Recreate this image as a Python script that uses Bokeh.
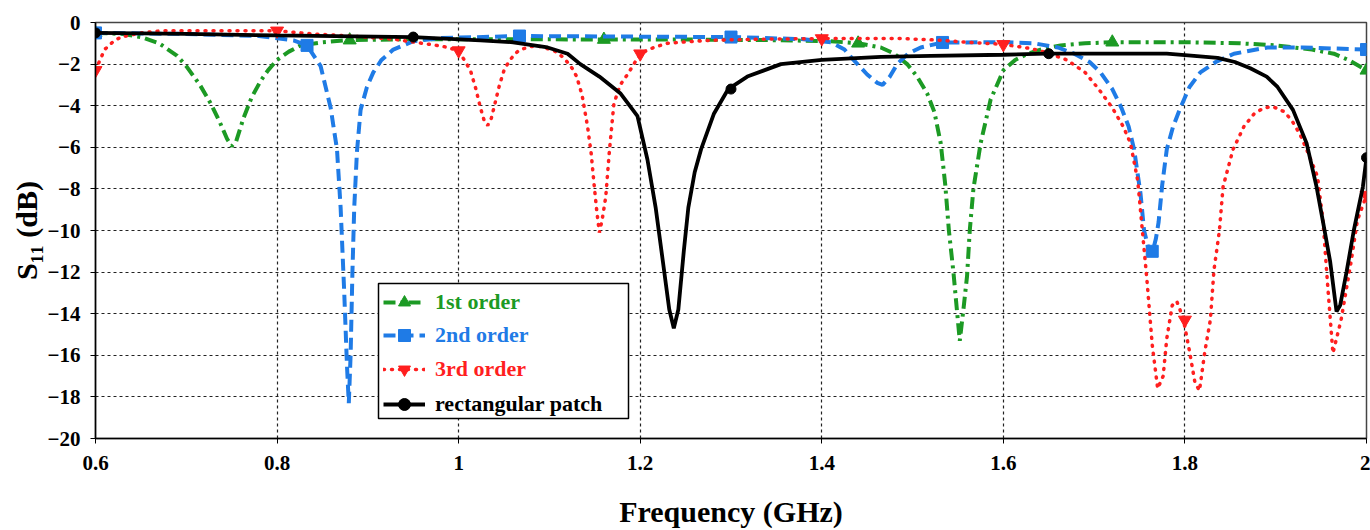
from bokeh.plotting import figure
from bokeh.models import (Legend, LegendItem, FixedTicker, NumeralTickFormatter,
                          BoxAnnotation, Range1d)
from bokeh.embed import file_html
from bokeh.resources import INLINE

# ---------------- data ----------------
green_x = [0.60, 0.63, 0.65, 0.67, 0.69, 0.70, 0.715, 0.727, 0.737, 0.745, 0.750, 0.755,
           0.763, 0.772, 0.782, 0.79, 0.80, 0.813, 0.826, 0.85, 0.877, 0.95, 1.05, 1.158,
           1.25, 1.35, 1.41, 1.44, 1.465, 1.48, 1.494, 1.505, 1.516, 1.524, 1.531, 1.536,
           1.540, 1.545, 1.549, 1.552, 1.556, 1.560, 1.563, 1.567, 1.575, 1.586, 1.60,
           1.613, 1.627, 1.645, 1.663, 1.69, 1.72, 1.80, 1.86, 1.90, 1.94, 1.964, 1.98, 2.00]
green_y = [-0.50, -0.55, -0.70, -1.0, -1.6, -2.1, -3.0, -3.9, -4.8, -5.6, -5.95, -5.7,
           -4.6, -3.6, -2.8, -2.3, -1.8, -1.4, -1.1, -0.95, -0.85, -0.8, -0.8, -0.82,
           -0.82, -0.85, -0.9, -1.0, -1.2, -1.5, -2.0, -2.6, -3.4, -4.3, -5.8, -7.8,
           -10.0, -12.0, -13.9, -15.3, -13.8, -12.2, -10.0, -8.0, -5.8, -3.7, -2.3,
           -1.8, -1.5, -1.25, -1.1, -1.0, -0.95, -0.95, -1.0, -1.1, -1.3, -1.5, -1.8, -2.3]
green_mx = [0.60, 0.88, 1.16, 1.44, 1.72, 2.00]
green_my = [-0.50, -0.85, -0.82, -1.0, -0.95, -2.3]

blue_x = [0.60, 0.70, 0.78, 0.818, 0.833, 0.848, 0.859, 0.866, 0.870, 0.874, 0.877, 0.879,
          0.881, 0.883, 0.885, 0.888, 0.892, 0.899, 0.906, 0.915, 0.928, 0.95, 0.98, 1.067,
          1.20, 1.30, 1.38, 1.41, 1.425, 1.435, 1.45, 1.461, 1.467, 1.475, 1.483, 1.495,
          1.509, 1.533, 1.60, 1.634, 1.66, 1.678, 1.695, 1.707, 1.72, 1.73, 1.738, 1.744,
          1.751, 1.755, 1.760, 1.764, 1.768, 1.771, 1.775, 1.78, 1.787, 1.795, 1.805,
          1.817, 1.834, 1.854, 1.891, 1.93, 1.964, 2.00]
blue_y = [-0.5, -0.55, -0.65, -0.86, -1.1, -2.1, -4.1, -6.1, -8.9, -13.0, -16.5, -18.3,
          -16.0, -12.0, -8.9, -6.2, -4.2, -3.1, -2.4, -1.8, -1.3, -0.9, -0.75, -0.65,
          -0.68, -0.7, -0.8, -0.95, -1.3, -1.8, -2.5, -2.9, -3.0, -2.6, -2.0, -1.5,
          -1.2, -0.96, -0.95, -1.0, -1.2, -1.5, -1.9, -2.4, -3.2, -4.1, -5.0, -6.1,
          -8.2, -10.0, -10.9, -11.1, -10.4, -9.6, -7.8, -6.1, -5.0, -4.1, -3.1,
          -2.4, -1.9, -1.5, -1.2, -1.2, -1.25, -1.3]
blue_mx = [0.60, 0.833, 1.067, 1.30, 1.533, 1.764, 2.00]
blue_my = [-0.5, -1.1, -0.65, -0.7, -0.96, -11.0, -1.3]

red_x = [0.60, 0.61, 0.62, 0.628, 0.65, 0.672, 0.75, 0.80, 0.84, 0.88, 0.928, 0.96, 0.983,
         1.00, 1.013, 1.019, 1.024, 1.028, 1.032, 1.036, 1.040, 1.045, 1.05, 1.055, 1.062,
         1.068, 1.08, 1.09, 1.105, 1.116, 1.125, 1.13, 1.136, 1.142, 1.146, 1.149, 1.152,
         1.155, 1.158, 1.162, 1.166, 1.171, 1.178, 1.186, 1.20, 1.215, 1.23, 1.26, 1.28,
         1.34, 1.40, 1.487, 1.53, 1.56, 1.60, 1.63, 1.648, 1.67, 1.69, 1.705, 1.72, 1.732,
         1.74, 1.748, 1.758, 1.764, 1.770, 1.776, 1.780, 1.786, 1.791, 1.798, 1.805, 1.811,
         1.816, 1.822, 1.828, 1.832, 1.838, 1.842, 1.853, 1.865, 1.876, 1.887, 1.897,
         1.91, 1.919, 1.927, 1.934, 1.946, 1.952, 1.957, 1.963, 1.972, 1.983, 1.99, 2.00]
red_y = [-2.3, -1.3, -0.9, -0.7, -0.5, -0.4, -0.4, -0.4, -0.55, -0.65, -0.8, -1.0, -1.15,
         -1.35, -2.3, -3.2, -4.1, -4.7, -4.95, -4.6, -3.9, -3.0, -2.3, -1.9, -1.5,
         -1.3, -1.15, -1.15, -1.35, -1.7, -2.2, -2.6, -3.5, -5.0, -6.3, -7.7, -9.0,
         -10.1, -9.5, -8.4, -6.2, -3.9, -3.0, -2.5, -1.5, -1.2, -1.0, -0.9, -0.85,
         -0.8, -0.77, -0.77, -0.85, -0.95, -1.05, -1.25, -1.45, -1.8, -2.4, -3.2, -4.1, -5.0,
         -5.8, -7.6, -12.3, -15.5, -17.6, -17.0, -15.2, -13.6, -13.4, -14.2, -15.8, -17.3,
         -17.7, -15.8, -14.3, -11.9, -10.0, -7.9, -6.1, -5.0, -4.4, -4.1, -4.05,
         -4.3, -4.8, -5.4, -6.1, -7.4, -9.5, -12.5, -15.9, -14.3, -11.5, -9.5, -8.3]
red_mx = [0.60, 0.80, 1.00, 1.20, 1.40, 1.60, 1.80, 2.00]
red_my = [-2.3, -0.4, -1.35, -1.5, -0.77, -1.05, -14.3, -8.3]

black_x = [0.60, 0.70, 0.80, 0.95, 1.024, 1.06, 1.098, 1.12, 1.134, 1.155, 1.178, 1.197,
           1.208, 1.217, 1.225, 1.232, 1.237, 1.242, 1.248, 1.253, 1.26, 1.267, 1.281,
           1.297, 1.318, 1.355, 1.40, 1.465, 1.52, 1.60, 1.648, 1.78, 1.81, 1.836, 1.855,
           1.872, 1.89, 1.902, 1.919, 1.934, 1.945, 1.953, 1.96, 1.967, 1.971, 1.978,
           1.986, 1.996, 2.00]
black_y = [-0.5, -0.55, -0.62, -0.7, -0.86, -0.95, -1.2, -1.5, -2.0, -2.6, -3.4, -4.5,
           -6.6, -8.9, -11.5, -13.8, -14.7, -13.8, -11.0, -8.9, -7.2, -6.1, -4.4,
           -3.2, -2.6, -2.0, -1.8, -1.65, -1.6, -1.55, -1.5, -1.5, -1.6, -1.7, -1.9,
           -2.2, -2.6, -3.1, -4.2, -5.8, -7.9, -9.8, -11.5, -13.9, -13.6, -12.0,
           -10.0, -7.9, -6.5]
black_mx = [0.60, 0.95, 1.30, 1.65, 2.00]
black_my = [-0.5, -0.7, -3.2, -1.5, -6.5]

x_ticks = [0.6, 0.8, 1.0, 1.2, 1.4, 1.6, 1.8, 2.0]
y_ticks = [0, -2, -4, -6, -8, -10, -12, -14, -16, -18, -20]
series_labels = ["1st order", "2nd order", "3rd order", "rectangular patch"]

# ---------------- styling ----------------
GREEN = "#1c9a24"
BLUE = "#1f7be6"
RED = "#ff1f1f"
BLACK = "#000000"
FONT = "Liberation Serif"

p = figure(width=1370, height=530, output_backend="svg", toolbar_location=None,
           x_range=Range1d(0.6, 2.0), y_range=Range1d(-20, 0),
           min_border_left=95, min_border_right=4, min_border_top=22, min_border_bottom=92)
p.background_fill_color = "white"
p.border_fill_color = "white"
p.outline_line_color = "#444444"
p.outline_line_width = 1.5

gl = p.line(green_x, green_y, color=GREEN, line_width=4, line_dash="12 5 3 5")
gm = p.scatter(green_mx, green_my, marker="triangle", size=13, color=GREEN)
bl = p.line(blue_x, blue_y, color=BLUE, line_width=4, line_dash="12 6")
bm = p.scatter(blue_mx, blue_my, marker="square", size=12, color=BLUE)
rl = p.line(red_x, red_y, color=RED, line_width=3.5, line_dash="1 7", line_cap="round")
rm = p.scatter(red_mx, red_my, marker="inverted_triangle", size=13, color=RED)
kl = p.line(black_x, black_y, color=BLACK, line_width=3.8)
km = p.scatter(black_mx, black_my, marker="circle", size=10, color=BLACK)

# axes
p.xaxis.ticker = FixedTicker(ticks=x_ticks)
p.xaxis.formatter = NumeralTickFormatter(format="0.[0]")
p.yaxis.ticker = FixedTicker(ticks=y_ticks)
for ax in (p.xaxis[0], p.yaxis[0]):
    ax.axis_line_color = "black"
    ax.axis_line_width = 1.5
    ax.major_tick_line_color = "black"
    ax.major_tick_out = 5
    ax.major_tick_in = 0
    ax.minor_tick_line_color = None
    ax.major_label_text_font = FONT
    ax.major_label_text_font_style = "bold"
    ax.major_label_text_font_size = "21px"
    ax.major_label_text_color = "black"
    ax.axis_label_text_font = FONT
    ax.axis_label_text_font_style = "bold"
    ax.axis_label_text_font_size = "30px"
    ax.axis_label_text_color = "black"
p.xaxis.axis_label = "Frequency (GHz)"
p.yaxis.axis_label = "S\u2081\u2081 (dB)"
p.xaxis.major_label_standoff = 12
p.xaxis.axis_label_standoff = 22
p.yaxis.major_label_standoff = 10
p.yaxis.axis_label_standoff = 2

p.xgrid.ticker = FixedTicker(ticks=x_ticks)
p.ygrid.ticker = FixedTicker(ticks=y_ticks)
for g in (p.xgrid[0], p.ygrid[0]):
    g.grid_line_color = "#222222"
    g.grid_line_width = 1.2
    g.grid_line_dash = "3 3"

# legend box + coloured legend rows
box = BoxAnnotation(left=283, right=533, bottom=20, top=155,
                    left_units="screen", right_units="screen",
                    top_units="screen", bottom_units="screen",
                    fill_color="white", fill_alpha=1.0,
                    line_color="black", line_width=1.5, line_alpha=1.0)
p.add_layout(box)

rows = [(series_labels[0], [gl, gm], GREEN, 121),
        (series_labels[1], [bl, bm], BLUE, 88),
        (series_labels[2], [rl, rm], RED, 54),
        (series_labels[3], [kl, km], BLACK, 19)]
for lab, rends, col, yb in rows:
    leg = Legend(items=[LegendItem(label=lab, renderers=rends)],
                 location=(288, yb), border_line_alpha=0, background_fill_alpha=0,
                 padding=0, margin=0, spacing=0, glyph_width=42, glyph_height=30,
                 label_height=30, label_standoff=10,
                 label_text_font=FONT, label_text_font_style="bold",
                 label_text_font_size="22px", label_text_color=col)
    p.add_layout(leg)

open("out.html", "w").write(file_html(p, INLINE))
